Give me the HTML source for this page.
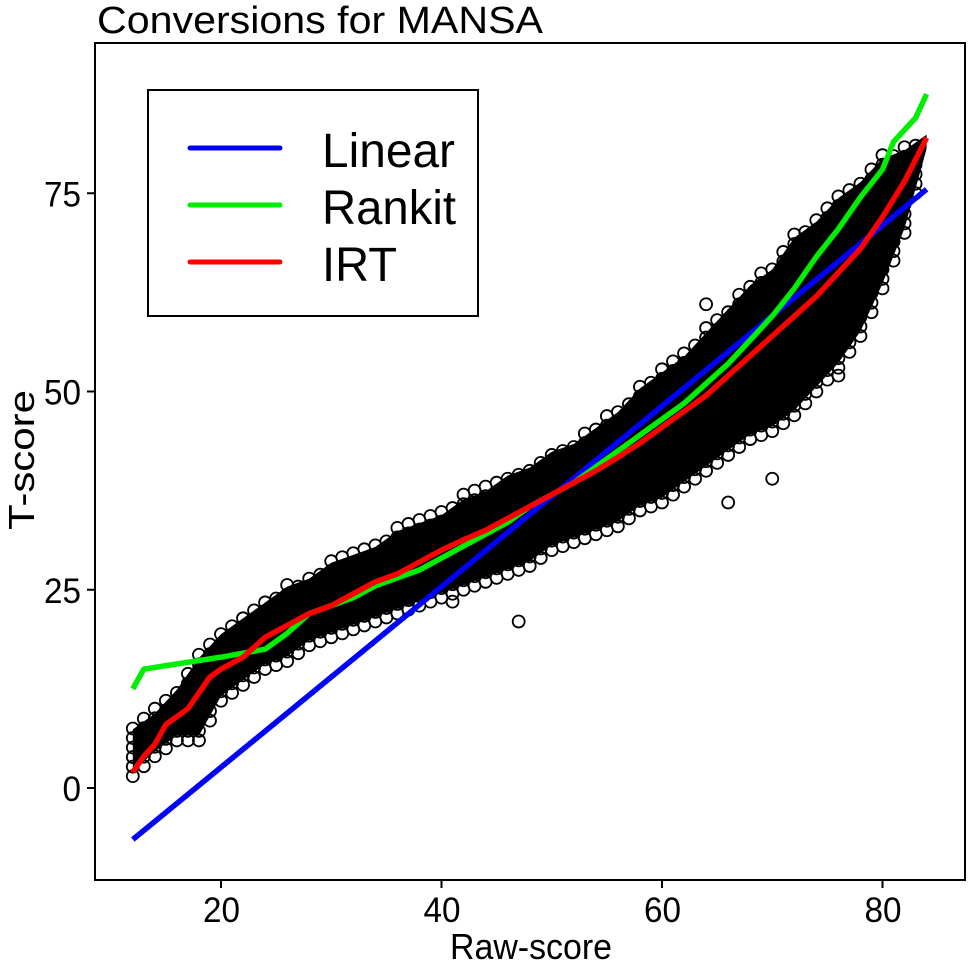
<!DOCTYPE html>
<html><head><meta charset="utf-8"><style>
html,body{margin:0;padding:0;background:#fff;}
svg{display:block;font-family:"Liberation Sans",Arial,sans-serif;}
</style></head><body>
<svg id="chart" width="968" height="961" viewBox="0 0 968 961">
<text x="97" y="33" font-size="38" textLength="446" lengthAdjust="spacingAndGlyphs" fill="#000">Conversions for MANSA</text>
<g id="scatter"></g>
<g id="lines"></g>
<rect x="95" y="43" width="870" height="837" fill="none" stroke="#000" stroke-width="2"/>
<g id="axes"></g>
<text x="450" y="959" font-size="36" textLength="162" lengthAdjust="spacingAndGlyphs">Raw-score</text>
<text transform="translate(34,530) rotate(-90)" font-size="36" textLength="140" lengthAdjust="spacingAndGlyphs">T-score</text>
<g>
<rect x="148" y="90" width="330" height="226" fill="#fff" stroke="#000" stroke-width="2"/>
<line x1="190" y1="148" x2="280" y2="148" stroke="#0000ff" stroke-width="5" stroke-linecap="round"/>
<text x="322" y="167" font-size="48" textLength="133" lengthAdjust="spacingAndGlyphs">Linear</text>
<line x1="190" y1="205" x2="280" y2="205" stroke="#00ee00" stroke-width="5" stroke-linecap="round"/>
<text x="322" y="224" font-size="48" textLength="134" lengthAdjust="spacingAndGlyphs">Rankit</text>
<line x1="190" y1="262" x2="280" y2="262" stroke="#ff0000" stroke-width="5" stroke-linecap="round"/>
<text x="322" y="281" font-size="48" textLength="75" lengthAdjust="spacingAndGlyphs">IRT</text>
</g>
</svg>
<script>
const xTicks=[20,40,60,80];
const yTicks=[0,25,50,75];
const bandRaw=[12,14,16,18,20,22,24,26,28,30,32,34,36,38,40,42,44,46,48,50,52,54,56,58,60,62,64,66,68,70,72,74,76,78,80,82,84];
const bandLo=[1.5,4,6,6,11,13,15,16,18,19,20,21,22,23,24,25,26,27,28,30,31,32,33,35,36,38,40,42,44,45,47,50,53,57,63,70,80];
const bandHi=[8,10,13,17,20,22,24,26,27,29,30,31,33,34,35,37,38,40,41,43,44,46,48,51,53,55,58,61,64,66,70,72,75,77,80,81,83];
const outRaw=[41,64,76,70,47,66];
const outT=[23.5,61,52,39,21,36];
const linRaw=[12,84];
const linT=[-6.5,75.5];
const irtRaw=[12,13,14,15,17,18,19,20,22,24,26,28,30,32,34,36,38,40,42,44,46,48,50,52,54,56,58,60,62,64,66,68,70,72,74,76,78,80,82,84];
const irtT=[2,4,5.5,8,10,12,14,15,16.5,19,20.5,22,23,24.5,26,27,28.5,30,31.3,32.5,34,35.5,37,38.5,40,41.7,43.5,45.5,47.5,49.5,52,54.5,57,59.5,62,65,68,72,76.5,82];
const rankRaw=[12,13,20,24,26,28,30,32,34,36,38,40,42,44,46,48,50,52,54,56,58,60,62,64,66,68,70,72,74,76,78,80,81,83,84];
const rankT=[12.5,15,16.5,17.5,19.5,22,23,24,25.5,26.5,27.5,29,30.5,32,33.5,35.5,37,38.5,40.5,42.5,44.5,46.5,48.5,51,53.5,56.5,59.5,63,67,70.5,74.5,78,81.5,84.5,87.5];
const X=v=>221+(v-20)*11.025;
const Y=v=>788-v*7.93;
const NS="http://www.w3.org/2000/svg";
function mk(t,p,parent){const e=document.createElementNS(NS,t);for(const k in p)e.setAttribute(k,p[k]);parent.appendChild(e);return e;}
const sc=document.getElementById('scatter');
let pts=[];
for(let i=0;i<bandRaw.length;i++)pts.push(X(bandRaw[i])+','+Y(bandHi[i]-0.6));
for(let i=bandRaw.length-1;i>=0;i--)pts.push(X(bandRaw[i])+','+Y(bandLo[i]+0.6));
const poly=mk('polygon',{points:pts.join(' '),fill:'#000'},sc);


for(let i=0;i<bandRaw.length-1;i++){
  for(let s=0;s<2;s++){
    const f=s/2;
    const r=bandRaw[i]+f*(bandRaw[i+1]-bandRaw[i]);
    const lo=bandLo[i]+f*(bandLo[i+1]-bandLo[i]);
    const hi=bandHi[i]+f*(bandHi[i+1]-bandHi[i]);
    for(let t=lo;t<=hi+0.01;t+=1.2){
      const c=mk('circle',{cx:X(r),cy:Y(t),r:6,fill:'none',stroke:'#000','stroke-width':1.8},sc);
      
      
    }
  }
}
for(let i=0;i<outRaw.length;i++){
  const c=mk('circle',{cx:X(outRaw[i]),cy:Y(outT[i]),r:6,fill:'none',stroke:'#000','stroke-width':1.8},sc);
  
  
}
const ln=document.getElementById('lines');
function line(rx,ty,color,name){
  const p=mk('polyline',{points:rx.map((r,i)=>X(r)+','+Y(ty[i])).join(' '),fill:'none',stroke:color,'stroke-width':5.5,'stroke-linejoin':'round'},ln);
  
  
}
line(linRaw,linT,'#0000ff','linear-line');
line(rankRaw,rankT,'#00ee00','rankit-line');
line(irtRaw,irtT,'#ff0000','irt-line');
const ax=document.getElementById('axes');
xTicks.forEach(v=>{
  const l=mk('line',{x1:X(v),x2:X(v),y1:880,y2:888,stroke:'#000','stroke-width':2},ax);
  
  
  const t=mk('text',{x:X(v)-18,y:922,'font-size':35,textLength:37,lengthAdjust:'spacingAndGlyphs'},ax);
  t.textContent=v;
  
  
});
yTicks.forEach(v=>{
  const l=mk('line',{x1:87,x2:95,y1:Y(v),y2:Y(v),stroke:'#000','stroke-width':2},ax);
  
  
  const w=String(v).length*18.5;
  const t=mk('text',{x:81-w,y:Y(v)+13,'font-size':35,textLength:w,lengthAdjust:'spacingAndGlyphs'},ax);
  t.textContent=v;
  
  
});
</script>
</body></html>
